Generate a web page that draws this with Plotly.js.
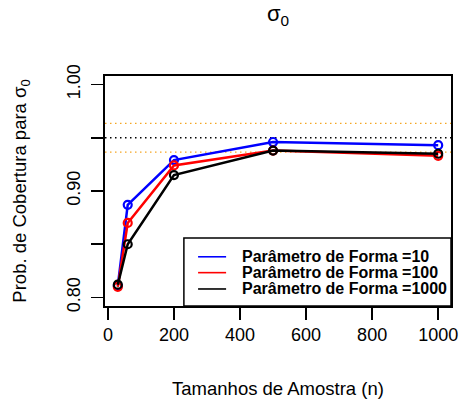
<!DOCTYPE html>
<html>
<head>
<meta charset="utf-8">
<script src="https://cdn.plot.ly/plotly-3.0.1.min.js"></script>
<style>
  html, body { margin: 0; padding: 0; background: #fff; }
  #chart { width: 460px; height: 401px; }
</style>
</head>
<body>
<div id="chart"></div>
<script>
// Sample sizes (n)
var sampleSizes = [30, 60, 200, 500, 1000];

// Coverage probability of sigma_0 for each shape parameter
var seriesNames = ['Parâmetro de Forma =10', 'Parâmetro de Forma =100', 'Parâmetro de Forma =1000'];
var cover10   = [0.811, 0.887, 0.929, 0.946, 0.943];
var cover100  = [0.810, 0.870, 0.924, 0.938, 0.933];
var cover1000 = [0.812, 0.850, 0.915, 0.938, 0.935];
var seriesColors = ['#0000FF', '#FF0000', '#000000'];

// Nominal level and its Monte Carlo band
var nominalLevel = [0.95];
var bandLimits = [0.9365, 0.9635];

// Axis ticks (labelled and unlabelled)
var xTickVals = [0, 200, 400, 600, 800, 1000];
var yTickVals = [0.80, 0.90, 1.00];
var yTickText = ['0.80', '0.90', '1.00'];
var yMinorTickVals = [0.85, 0.95];

var FONT = 'Liberation Sans, Arial, Helvetica, sans-serif';
var allSeries = [cover10, cover100, cover1000];

var traces = allSeries.map(function (vals, i) {
  return {
    x: sampleSizes,
    y: vals,
    type: 'scatter',
    mode: 'lines+markers',
    name: seriesNames[i],
    line: { color: seriesColors[i], width: 2.5 },
    marker: { symbol: 'circle-open', size: 8, color: seriesColors[i], line: { width: 2.2, color: seriesColors[i] } },
    showlegend: false,
    hoverinfo: 'x+y'
  };
});

var shapes = [];
nominalLevel.forEach(function (v) {
  shapes.push({ type: 'line', xref: 'paper', x0: 0, x1: 1, yref: 'y', y0: v, y1: v,
    line: { color: '#000000', width: 1.5, dash: '1.5px,3.5px' }, layer: 'below' });
});
bandLimits.forEach(function (v) {
  shapes.push({ type: 'line', xref: 'paper', x0: 0, x1: 1, yref: 'y', y0: v, y1: v,
    line: { color: '#F5A623', width: 1.3, dash: '1.5px,3.5px' }, layer: 'below' });
});

// Legend box in the lower right corner of the plot area
var legX0 = 0.228, legTop = 0.296;
shapes.push({ type: 'rect', xref: 'paper', yref: 'paper', x0: legX0, x1: 1, y0: 0, y1: legTop,
  fillcolor: '#ffffff', line: { color: '#000000', width: 1.5 }, layer: 'above' });

var rowY = [0.214, 0.145, 0.074];
var annotations = [];
seriesNames.forEach(function (name, i) {
  shapes.push({ type: 'line', xref: 'paper', yref: 'paper', x0: 0.269, x1: 0.350, y0: rowY[i], y1: rowY[i],
    line: { color: seriesColors[i], width: 1.6 }, layer: 'above' });
  annotations.push({ xref: 'paper', yref: 'paper', x: 0.390, y: rowY[i], xanchor: 'left', yanchor: 'middle',
    text: '<b>' + name + '</b>', showarrow: false, font: { family: FONT, size: 16, color: '#000' } });
});

var layout = {
  width: 460,
  height: 401,
  margin: { l: 105, r: 9, t: 76, b: 95 },
  paper_bgcolor: '#ffffff',
  plot_bgcolor: '#ffffff',
  font: { family: FONT, size: 18, color: '#000' },
  title: {
    text: 'σ<sub>0</sub>',
    font: { family: FONT, size: 22, color: '#000' },
    xref: 'paper', x: 0.5, xanchor: 'center',
    yref: 'container', y: 0.985, yanchor: 'top'
  },
  xaxis: {
    range: [-8.8, 1038.8],
    tickmode: 'array',
    tickvals: xTickVals,
    ticks: 'outside', ticklen: 12, tickwidth: 1.7, tickcolor: '#000',
    ticklabelstandoff: 0,
    showline: true, linecolor: '#000', linewidth: 1.7, mirror: true,
    showgrid: false, zeroline: false,
    tickfont: { family: FONT, size: 18 },
    title: { text: 'Tamanhos de Amostra (n)', font: { family: FONT, size: 18.5 }, standoff: 38 },
    automargin: false
  },
  yaxis: {
    range: [0.792, 1.008],
    tickmode: 'array',
    tickvals: yTickVals,
    ticktext: yTickText,
    tickangle: -90,
    ticks: 'outside', ticklen: 12, tickwidth: 1.7, tickcolor: '#000',
    minor: { tickmode: 'array', tickvals: yMinorTickVals, ticks: 'outside', ticklen: 12, tickwidth: 1.7, tickcolor: '#000', showgrid: false },
    ticklabelstandoff: 4,
    showline: true, linecolor: '#000', linewidth: 1.7, mirror: true,
    showgrid: false, zeroline: false,
    tickfont: { family: FONT, size: 18 },
    title: { text: 'Prob. de Cobertura para σ<sub>0</sub>', font: { family: FONT, size: 18.5 }, standoff: 32 },
    automargin: false
  },
  shapes: shapes,
  annotations: annotations,
  showlegend: false
};

Plotly.newPlot('chart', traces, layout, { displayModeBar: false, staticPlot: true });
</script>
</body>
</html>
